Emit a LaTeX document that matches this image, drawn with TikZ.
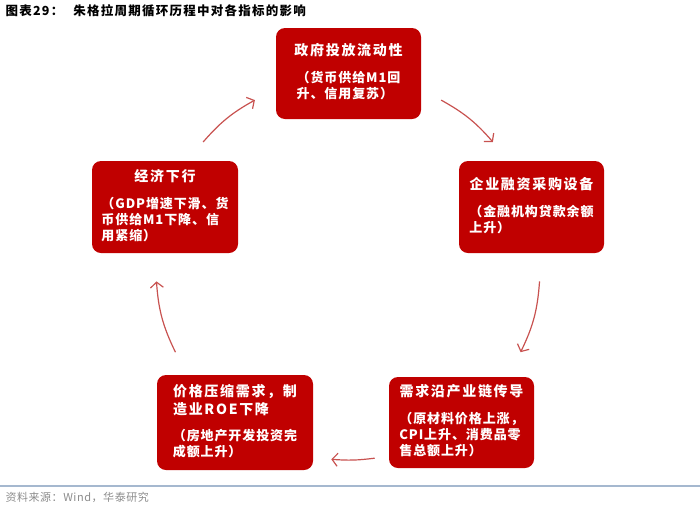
\documentclass[tikz,border=0pt]{standalone}
\usepackage{fontspec}
\setmainfont{Noto Sans CJK SC}
\newfontfamily\cjkhead[LetterSpace=12]{Noto Sans CJK SC}
\newfontfamily\cjknote[LetterSpace=7]{Noto Sans CJK SC}
\newfontfamily\cjktitle[LetterSpace=10]{Noto Sans CJK SC}
\newfontfamily\cjksource[LetterSpace=5]{Noto Sans CJK SC}
\usetikzlibrary{arrows.meta,calc}

% small note under each box heading, set flush left
\newcommand{\boxnote}[1]{\\[9pt]{\cjknote\bfseries\fontsize{13}{15.5}\selectfont
  \begin{tabular}[t]{@{}l@{}}#1\end{tabular}}}

\begin{document}
\begin{tikzpicture}[
  x=1pt,y=-1pt,
  cyclebox/.style={fill=boxred,rounded corners=9pt,text=white,align=center,inner sep=0pt,
    minimum width=145pt,minimum height=91pt,font=\cjkhead\bfseries\fontsize{14}{18}\selectfont},
  cyclearrow/.style={arrowred,line width=1.2pt,-{Straight Barb[length=5.5pt,width=13pt]}}
]
\definecolor{boxred}{RGB}{192,0,0}
\definecolor{arrowred}{RGB}{200,82,80}
\definecolor{rulegray}{RGB}{165,184,207}
\definecolor{sourcegray}{RGB}{140,140,140}

\useasboundingbox (0,0) rectangle (700,504);

% Heading and source line.
\node[anchor=west,font=\cjktitle\bfseries\fontsize{12.5}{14}\selectfont] (charttitle) at (2,11)
  {图表29：\hspace{10pt}朱格拉周期循环历程中对各指标的影响};
\draw[rulegray,line width=1.5pt] (0,486) -- (700,486);
\node[anchor=west,text=sourcegray,font=\cjksource\fontsize{11}{13}\selectfont] (source) at (2,497)
  {资料来源：Wind，华泰研究};

% The five stages of the cycle.
\node[cyclebox] (govbox) at (348.5,73.5)
  {政府投放流动性\boxnote{（货币供给M1回\\升、信用复苏）}};
\node[cyclebox,minimum height=92pt] (finbox) at (531.5,207)
  {企业融资采购设备\boxnote{（金融机构贷款余额\\上升）}};
\node[cyclebox] (demandbox) at (461.5,422.5)
  {需求沿产业链传导\boxnote{（原材料价格上涨，\\CPI上升、消费品零\\售总额上升）}};
\node[cyclebox,minimum width=156pt,minimum height=95pt] (pricebox) at (235,422.5)
  {\begin{tabular}[t]{@{}l@{}}价格压缩需求，制\\造业ROE下降\end{tabular}\boxnote{（房地产开发投资完\\成额上升）}};
\node[cyclebox,minimum width=146pt,minimum height=92pt] (downbox) at (165,207)
  {经济下行\boxnote{（GDP增速下滑、货\\币供给M1下降、信\\用紧缩）}};

% Arrow ends sit on one circle round the middle of the figure.
\coordinate (hub) at (348,268);
\foreach \name/\ang in {dg1/221,dg2/241,gf1/299,gf2/319,fd1/4,fd2/26,
                        dp1/82,dp2/95,pd1/154,pd2/176}
  \coordinate (\name) at ($(hub)+(\ang:192)$);

\draw[cyclearrow] (dg1) to[bend left=10] (dg2);
\draw[cyclearrow] (gf1) to[bend left=10] (gf2);
\draw[cyclearrow] (fd1) to[bend left=11] (fd2);
\draw[cyclearrow] (dp1) to[bend left=6] (dp2);
\draw[cyclearrow] (pd1) to[bend left=11] (pd2);
\end{tikzpicture}
\end{document}
